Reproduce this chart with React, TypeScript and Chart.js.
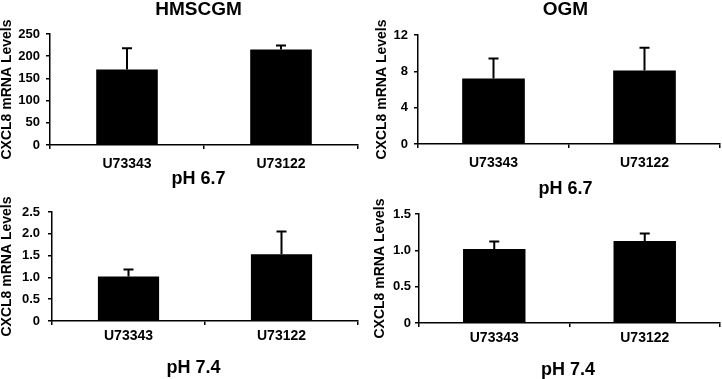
import React, { useEffect, useRef } from 'react';
import { Chart, registerables } from 'chart.js';

Chart.register(...registerables);

// ---------- data ----------
const categories = ['U73343', 'U73122'];
const yAxisTitle = 'CXCL8 mRNA Levels';

const hmscgmAcidValues = [170, 215];
const hmscgmAcidErrors = [48, 9];
const hmscgmAcidTicks = ['0', '50', '100', '150', '200', '250'];

const ogmAcidValues = [7.2, 8.1];
const ogmAcidErrors = [2.2, 2.5];
const ogmAcidTicks = ['0', '4', '8', '12'];

const hmscgmNeutralValues = [1.02, 1.53];
const hmscgmNeutralErrors = [0.16, 0.52];
const hmscgmNeutralTicks = ['0', '0.5', '1.0', '1.5', '2.0', '2.5'];

const ogmNeutralValues = [1.02, 1.13];
const ogmNeutralErrors = [0.1, 0.1];
const ogmNeutralTicks = ['0', '0.5', '1.0', '1.5'];

const FONT = "'Liberation Sans', Arial, Helvetica, sans-serif";

type PanelProps = {
  left: number;
  top: number;
  width: number;
  height: number;
  values: number[];
  errors: number[];
  ticks: string[];
  title?: string;
  subtitle: string;
  titlePad?: { top: number; bottom: number };
  subPad: { top: number; bottom: number };
  layoutTop: number;
  yWidth: number;
  rightWidth: number;
  xPad: number;
  yTickPad: number;
  yTitlePt: number;
  barPct: number;
};

function Panel(p: PanelProps) {
  const ref = useRef<HTMLCanvasElement | null>(null);

  useEffect(() => {
    if (!ref.current) return;
    const max = Number(p.ticks[p.ticks.length - 1]);
    const step = Number(p.ticks[1]);

    const errorBars = {
      id: 'errorBars',
      afterDatasetsDraw(chart: any) {
        const meta = chart.getDatasetMeta(0);
        const ys = chart.scales.y;
        const ctx = chart.ctx;
        ctx.save();
        ctx.strokeStyle = '#000';
        ctx.lineWidth = 2;
        meta.data.forEach((bar: any, i: number) => {
          const v = chart.data.datasets[0].data[i] as number;
          const topPx = ys.getPixelForValue(v + p.errors[i]);
          ctx.beginPath();
          ctx.moveTo(bar.x, bar.y);
          ctx.lineTo(bar.x, topPx);
          ctx.moveTo(bar.x - 5, topPx);
          ctx.lineTo(bar.x + 5, topPx);
          ctx.stroke();
        });
        ctx.restore();
      },
    };

    const chart = new Chart(ref.current, {
      type: 'bar',
      data: {
        labels: categories,
        datasets: [
          {
            data: p.values,
            backgroundColor: '#000',
            borderWidth: 0,
            barPercentage: p.barPct,
            categoryPercentage: 1,
          },
        ],
      },
      plugins: [errorBars],
      options: {
        responsive: false,
        animation: false,
        events: [],
        layout: { padding: { top: p.layoutTop, left: 0, right: 0, bottom: 0 } },
        plugins: {
          legend: { display: false },
          tooltip: { enabled: false },
          title: {
            display: !!p.title,
            text: p.title || '',
            color: '#000',
            font: { family: FONT, size: 19, weight: 'bold', lineHeight: 1 },
            padding: p.titlePad || { top: 0, bottom: 0 },
          },
          subtitle: {
            display: true,
            position: 'bottom',
            text: p.subtitle,
            color: '#000',
            font: { family: FONT, size: 18, weight: 'bold', lineHeight: 1 },
            padding: p.subPad,
          },
        },
        scales: {
          x: {
            type: 'category',
            grid: {
              display: true,
              offset: true,
              drawOnChartArea: false,
              drawTicks: true,
              tickLength: 4,
              color: '#000',
              lineWidth: 1.5,
            },
            border: { display: true, color: '#000', width: 1.5 },
            ticks: {
              color: '#000',
              font: { family: FONT, size: 14, weight: 'bold' },
              padding: p.xPad,
              maxRotation: 0,
              autoSkip: false,
            },
            afterFit: (s: any) => {
              s.height = 25;
            },
          },
          y: {
            type: 'linear',
            position: 'left',
            min: 0,
            max,
            grid: {
              display: true,
              drawOnChartArea: false,
              drawTicks: true,
              tickLength: 4,
              color: '#000',
              lineWidth: 1.5,
            },
            border: { display: true, color: '#000', width: 1.5 },
            ticks: {
              stepSize: step,
              color: '#000',
              font: { family: FONT, size: 13, weight: 'bold' },
              padding: p.yTickPad,
              callback: (_v: any, i: number) => p.ticks[i],
            },
            title: {
              display: true,
              text: yAxisTitle,
              color: '#000',
              font: { family: FONT, size: 14, weight: 'bold', lineHeight: 1 },
              padding: { top: p.yTitlePt, bottom: 0 },
            },
            afterFit: (s: any) => {
              s.width = p.yWidth;
            },
          },
          yRight: {
            type: 'linear',
            axis: 'y',
            position: 'right',
            display: true,
            grid: { display: false, drawTicks: false },
            border: { display: false },
            ticks: { display: false },
            afterFit: (s: any) => {
              s.width = p.rightWidth;
            },
          },
        },
      } as any,
    });
    return () => chart.destroy();
  }, []);

  return (
    <canvas
      ref={ref}
      width={p.width}
      height={p.height}
      style={{
        position: 'absolute',
        left: p.left,
        top: p.top,
        width: p.width,
        height: p.height,
        display: 'block',
      }}
    />
  );
}

export default function App() {
  return (
    <div
      style={{
        position: 'fixed',
        left: 0,
        top: 0,
        width: 722,
        height: 379,
        overflow: 'hidden',
        background: '#fff',
      }}
    >
      <Panel
        left={0}
        top={0}
        width={397}
        height={190}
        values={hmscgmAcidValues}
        errors={hmscgmAcidErrors}
        ticks={hmscgmAcidTicks}
        title="HMSCGM"
        subtitle="pH 6.7"
        titlePad={{ top: 0, bottom: 15 }}
        subPad={{ top: 0, bottom: 2 }}
        layoutTop={0}
        yWidth={50}
        rightWidth={39}
        xPad={7}
        yTickPad={6}
        yTitlePt={0}
        barPct={0.4}
      />
      <Panel
        left={361}
        top={0}
        width={409}
        height={201}
        values={ogmAcidValues}
        errors={ogmAcidErrors}
        ticks={ogmAcidTicks}
        title="OGM"
        subtitle="pH 6.7"
        titlePad={{ top: 0, bottom: 16 }}
        subPad={{ top: 11, bottom: 3 }}
        layoutTop={0}
        yWidth={57}
        rightWidth={50}
        xPad={7}
        yTickPad={6}
        yTitlePt={14}
        barPct={0.415}
      />
      <Panel
        left={0}
        top={190}
        width={387}
        height={189}
        values={hmscgmNeutralValues}
        errors={hmscgmNeutralErrors}
        ticks={hmscgmNeutralTicks}
        subtitle="pH 7.4"
        subPad={{ top: 13, bottom: 2 }}
        layoutTop={22}
        yWidth={52}
        rightWidth={29}
        xPad={3}
        yTickPad={8}
        yTitlePt={0}
        barPct={0.4}
      />
      <Panel
        left={361}
        top={190}
        width={414}
        height={189}
        values={ogmNeutralValues}
        errors={ogmNeutralErrors}
        ticks={ogmNeutralTicks}
        subtitle="pH 7.4"
        subPad={{ top: 13, bottom: 0 }}
        layoutTop={24}
        yWidth={58}
        rightWidth={55}
        xPad={3}
        yTickPad={4}
        yTitlePt={12}
        barPct={0.415}
      />
    </div>
  );
}
